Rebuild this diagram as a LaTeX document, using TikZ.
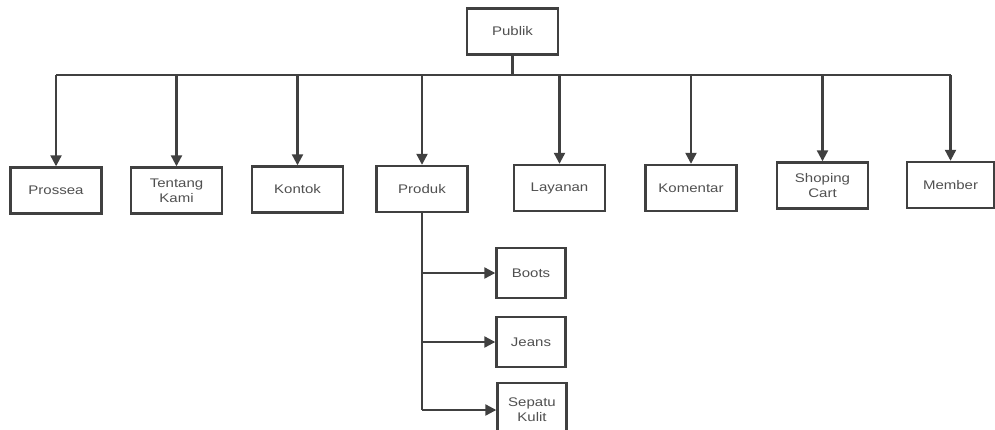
\documentclass[tikz,border=0pt]{standalone}
\usepackage{fontspec}
\setmainfont{Liberation Sans}
\newfontfamily\diagfont[FakeStretch=1.2]{Liberation Sans}
\usetikzlibrary{arrows.meta}
\definecolor{lineclr}{HTML}{404040}
\definecolor{textclr}{HTML}{505050}
\tikzset{
  box/.style={draw=lineclr, line width=2.4pt, fill=white, minimum width=91pt, minimum height=46pt,
    inner sep=0pt, align=center, text=textclr, font=\diagfont\fontsize{12.5}{15}\selectfont},
  subbox/.style={box, minimum width=69pt, minimum height=50pt},
  conn/.style={draw=lineclr, line width=2.2pt},
  arr/.style={conn, -{Triangle[length=11pt,width=11pt]}}
}
\begin{document}
\begin{tikzpicture}[x=1pt,y=-1pt]
\useasboundingbox (0,0) rectangle (995,429);
\clip (0,0) rectangle (995,429);
\node[box] (publik) at (512.5,31.5) {Publik};
\node[box] (prossea) at (56,190.5) {Prossea};
\node[box] (tentang) at (176.5,190.5) {Tentang\\Kami};
\node[box] (kontok) at (297.5,189.5) {Kontok};
\node[box] (produk) at (422,189) {Produk};
\node[box] (layanan) at (559.5,188) {Layanan};
\node[box] (komentar) at (691,188) {Komentar};
\node[box] (shoping) at (822.5,185.5) {Shoping\\Cart};
\node[box, minimum width=87pt] (member) at (950.5,185) {Member};
\node[subbox] (boots) at (531,273) {Boots};
\node[subbox] (jeans) at (531,342) {Jeans};
\node[subbox, minimum height=54pt] (sepatu) at (532,410) {Sepatu\\Kulit};
\coordinate (busL) at (56,75);
\coordinate (busR) at (951,75);
\draw[conn] (publik.south) -- (publik.south |- busL);
\draw[conn] (busL) -- (busR);
\foreach \n in {prossea,tentang,kontok,produk,layanan,komentar,shoping,member}
  \draw[arr] (\n.north |- busL) -- (\n.north);
\draw[conn] (produk.south) -- (produk.south |- sepatu.west);
\draw[arr] (produk.south |- boots.west) -- (boots.west);
\draw[arr] (produk.south |- jeans.west) -- (jeans.west);
\draw[arr] (produk.south |- sepatu.west) -- (sepatu.west);
\end{tikzpicture}
\end{document}
